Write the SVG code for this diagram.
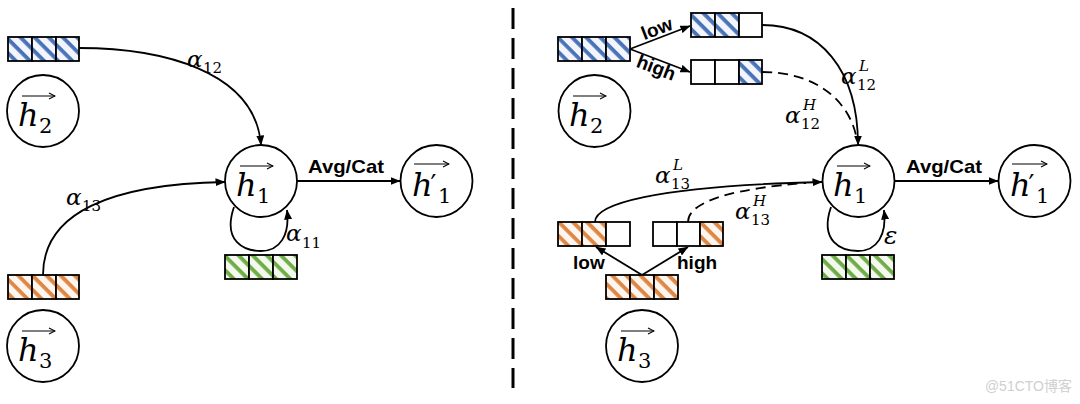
<svg xmlns="http://www.w3.org/2000/svg" width="1080" height="404" viewBox="0 0 1080 404">
<style>
.ln{fill:none;stroke:#000;stroke-width:1.8}
.dash{fill:none;stroke:#000;stroke-width:1.8;stroke-dasharray:10 6}
.nd{fill:#fff;stroke:#000;stroke-width:1.8}
.cell{stroke:#000;stroke-width:1.8}
.hv{font-family:"DejaVu Serif","Liberation Serif",serif;font-style:italic;font-size:32px;fill:#000}
.pr{font-family:"DejaVu Sans","Liberation Serif",serif;font-style:normal;font-size:26px}
.sub{font-family:"DejaVu Serif","Liberation Serif",serif;font-style:normal;font-size:21px}
.al{font-family:"DejaVu Serif","Liberation Serif",serif;font-style:italic;font-size:23px;fill:#000}
.as{font-style:normal;font-size:15px}
.asi{font-style:italic;font-size:15px}
.lb{font-family:"Liberation Sans",Arial,sans-serif;font-weight:bold;font-size:19px;fill:#000}
.vec{stroke:#000;stroke-width:1.2;fill:none}
</style>
<defs>
<marker id="ah" markerUnits="userSpaceOnUse" markerWidth="10" markerHeight="8" refX="9.5" refY="4" orient="auto">
<path d="M0,0 L10,4 L0,8 z" fill="#000"/>
</marker>
<marker id="va" markerUnits="userSpaceOnUse" markerWidth="8" markerHeight="8" refX="7" refY="4" orient="auto">
<path d="M1,1 L7,4 L1,7" fill="none" stroke="#000" stroke-width="1.1"/>
</marker>
<pattern id="hB" patternUnits="userSpaceOnUse" width="10" height="10" patternTransform="rotate(45)">
<rect width="10" height="10" fill="#f2f5fb"/><rect y="0" width="10" height="3.8" fill="#4a72b8"/>
</pattern>
<pattern id="hO" patternUnits="userSpaceOnUse" width="10" height="10" patternTransform="rotate(45)">
<rect width="10" height="10" fill="#fdf5ef"/><rect y="0" width="10" height="3.8" fill="#df8642"/>
</pattern>
<pattern id="hG" patternUnits="userSpaceOnUse" width="10" height="10" patternTransform="rotate(45)">
<rect width="10" height="10" fill="#f3f9ef"/><rect y="0" width="10" height="3.8" fill="#6fac46"/>
</pattern>
</defs>
<rect width="1080" height="404" fill="#fff"/>

<!-- separator -->
<line x1="513" y1="8" x2="513" y2="388" stroke="#000" stroke-width="3" stroke-dasharray="21 9"/>

<g id="connectors">
<!-- left -->
<path class="ln" d="M79,48 C160,48 255,70 261,145" marker-end="url(#ah)"/>
<path class="ln" d="M43,275 C43,212 112,184 225,182" marker-end="url(#ah)"/>
<path class="ln" d="M234,207 C222,242 245,251 261,251 C280,251 290,235 287,210" marker-end="url(#ah)"/>
<line class="ln" x1="297" y1="181" x2="400" y2="181" marker-end="url(#ah)"/>
<!-- right -->
<line class="ln" x1="630" y1="49" x2="690" y2="26" marker-end="url(#ah)"/>
<line class="ln" x1="630" y1="49" x2="690" y2="72" marker-end="url(#ah)"/>
<path class="ln" d="M762,25 C820,25 858,70 858,145" marker-end="url(#ah)"/>
<path class="dash" d="M762,72 C815,72 850,100 857,140"/>
<line class="ln" x1="642" y1="275" x2="596" y2="247" marker-end="url(#ah)"/>
<line class="ln" x1="642" y1="275" x2="688" y2="247" marker-end="url(#ah)"/>
<path class="ln" d="M595,222 C595,205 650,186 822,182" marker-end="url(#ah)"/>
<path class="dash" d="M688,222 C688,200 740,188 806,183"/>
<path class="ln" d="M831,207 C819,242 842,251 858,251 C877,251 887,235 884,210" marker-end="url(#ah)"/>
<line class="ln" x1="894" y1="181" x2="998" y2="181" marker-end="url(#ah)"/>
</g>

<!-- bars -->
<g id="barL2">
<rect class="cell" x="8" y="37" width="24" height="24" fill="url(#hB)"/><rect class="cell" x="32" y="37" width="24" height="24" fill="url(#hB)"/><rect class="cell" x="56" y="37" width="23" height="24" fill="url(#hB)"/>
</g>
<g id="barL3">
<rect class="cell" x="8" y="275" width="24" height="24" fill="url(#hO)"/><rect class="cell" x="32" y="275" width="24" height="24" fill="url(#hO)"/><rect class="cell" x="56" y="275" width="23" height="24" fill="url(#hO)"/>
</g>
<g id="barL1">
<rect class="cell" x="225" y="255" width="24" height="24" fill="url(#hG)"/><rect class="cell" x="249" y="255" width="24" height="24" fill="url(#hG)"/><rect class="cell" x="273" y="255" width="24" height="24" fill="url(#hG)"/>
</g>
<g id="barR2">
<rect class="cell" x="558" y="37" width="24" height="24" fill="url(#hB)"/><rect class="cell" x="582" y="37" width="24" height="24" fill="url(#hB)"/><rect class="cell" x="606" y="37" width="24" height="24" fill="url(#hB)"/>
</g>
<g id="barR2low">
<rect class="cell" x="691" y="13" width="24" height="24" fill="url(#hB)"/><rect class="cell" x="715" y="13" width="24" height="24" fill="url(#hB)"/><rect class="cell" x="739" y="13" width="23" height="24" fill="#fff"/>
</g>
<g id="barR2high">
<rect class="cell" x="691" y="60" width="24" height="24" fill="#fff"/><rect class="cell" x="715" y="60" width="24" height="24" fill="#fff"/><rect class="cell" x="739" y="60" width="23" height="24" fill="url(#hB)"/>
</g>
<g id="barR3">
<rect class="cell" x="606" y="275" width="24" height="24" fill="url(#hO)"/><rect class="cell" x="630" y="275" width="24" height="24" fill="url(#hO)"/><rect class="cell" x="654" y="275" width="24" height="24" fill="url(#hO)"/>
</g>
<g id="barR3low">
<rect class="cell" x="558" y="222" width="24" height="24" fill="url(#hO)"/><rect class="cell" x="582" y="222" width="24" height="24" fill="url(#hO)"/><rect class="cell" x="606" y="222" width="24" height="24" fill="#fff"/>
</g>
<g id="barR3high">
<rect class="cell" x="653" y="222" width="24" height="24" fill="#fff"/><rect class="cell" x="677" y="222" width="23" height="24" fill="#fff"/><rect class="cell" x="700" y="222" width="23" height="24" fill="url(#hO)"/>
</g>
<g id="barR1">
<rect class="cell" x="822" y="255" width="24" height="24" fill="url(#hG)"/><rect class="cell" x="846" y="255" width="24" height="24" fill="url(#hG)"/><rect class="cell" x="870" y="255" width="24" height="24" fill="url(#hG)"/>
</g>

<!-- nodes left -->
<g id="nodeL_h2">
<circle class="nd" cx="43" cy="111" r="36"/>
<line class="vec" x1="22" y1="96" x2="55" y2="96" marker-end="url(#va)"/>
<text class="hv" x="18" y="126">h<tspan class="sub" x="39" dy="7">2</tspan></text>
</g>
<g id="nodeL_h3">
<circle class="nd" cx="43" cy="346" r="36"/>
<line class="vec" x1="22" y1="331" x2="55" y2="331" marker-end="url(#va)"/>
<text class="hv" x="18" y="361">h<tspan class="sub" x="39" dy="7">3</tspan></text>
</g>
<g id="nodeL_h1">
<circle class="nd" cx="261" cy="181" r="36"/>
<line class="vec" x1="240" y1="166" x2="273" y2="166" marker-end="url(#va)"/>
<text class="hv" x="236" y="196">h<tspan class="sub" x="257" dy="7">1</tspan></text>
</g>
<g id="nodeL_h1p">
<circle class="nd" cx="436.5" cy="181" r="36"/>
<line class="vec" x1="414" y1="164" x2="449" y2="164" marker-end="url(#va)"/>
<text class="hv" x="412" y="196">h<tspan class="pr" x="430.5" dy="-2">′</tspan><tspan class="sub" x="438" dy="9">1</tspan></text>
</g>

<!-- nodes right -->
<g id="nodeR_h2">
<circle class="nd" cx="594.5" cy="111" r="36"/>
<line class="vec" x1="573" y1="96" x2="606" y2="96" marker-end="url(#va)"/>
<text class="hv" x="569" y="126">h<tspan class="sub" x="590" dy="7">2</tspan></text>
</g>
<g id="nodeR_h3">
<circle class="nd" cx="642" cy="346" r="36"/>
<line class="vec" x1="621" y1="331" x2="654" y2="331" marker-end="url(#va)"/>
<text class="hv" x="617" y="361">h<tspan class="sub" x="638" dy="7">3</tspan></text>
</g>
<g id="nodeR_h1">
<circle class="nd" cx="858.5" cy="181" r="36"/>
<line class="vec" x1="837" y1="166" x2="870" y2="166" marker-end="url(#va)"/>
<text class="hv" x="833" y="196">h<tspan class="sub" x="854" dy="7">1</tspan></text>
</g>
<g id="nodeR_h1p">
<circle class="nd" cx="1034.5" cy="181" r="36"/>
<line class="vec" x1="1012" y1="164" x2="1047" y2="164" marker-end="url(#va)"/>
<text class="hv" x="1010" y="196">h<tspan class="pr" x="1028.5" dy="-2">′</tspan><tspan class="sub" x="1036" dy="9">1</tspan></text>
</g>

<!-- labels -->
<g id="labels">
<text class="al" x="187" y="67">α<tspan class="as" x="203" dy="6">12</tspan></text>
<text class="al" x="66" y="205">α<tspan class="as" x="82" dy="6">13</tspan></text>
<text class="al" x="286" y="241">α<tspan class="as" x="302" dy="7">11</tspan></text>
<text class="lb" x="308" y="173" textLength="76" lengthAdjust="spacingAndGlyphs">Avg/Cat</text>
<text class="lb" x="906" y="173" textLength="76" lengthAdjust="spacingAndGlyphs">Avg/Cat</text>

<text class="lb" transform="translate(657,29) rotate(-21)" text-anchor="middle" y="6">low</text>
<text class="lb" transform="translate(656,68) rotate(21)" text-anchor="middle" y="6">high</text>
<text class="lb" x="573" y="269">low</text>
<text class="lb" x="677" y="269">high</text>

<text class="al" x="841" y="84">α<tspan class="asi" x="859" dy="-13">L</tspan><tspan class="as" x="857" dy="19">12</tspan></text>
<text class="al" x="785" y="123">α<tspan class="asi" x="803" dy="-13">H</tspan><tspan class="as" x="801" dy="19">12</tspan></text>
<text class="al" x="655" y="183">α<tspan class="asi" x="673" dy="-13">L</tspan><tspan class="as" x="671" dy="19">13</tspan></text>
<text class="al" x="735" y="219">α<tspan class="asi" x="753" dy="-13">H</tspan><tspan class="as" x="751" dy="19">13</tspan></text>
<text class="al" x="884" y="244" style="font-size:25px">ε</text>
</g>

<text x="1072" y="391" text-anchor="end" style="font-family:'Liberation Sans','Noto Sans CJK SC',sans-serif;font-size:14px;fill:#cfcfcf">@51CTO博客</text>
</svg>
